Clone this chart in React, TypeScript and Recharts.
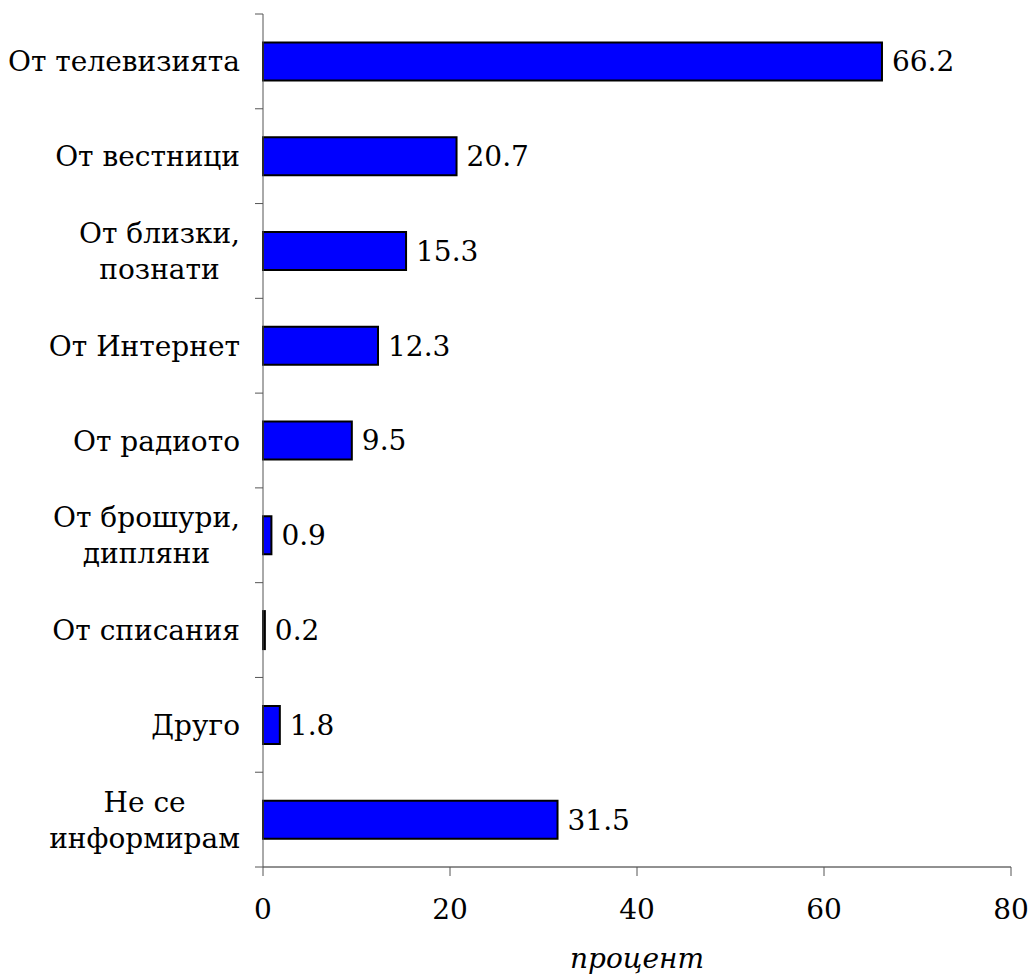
import React from "react";
import { BarChart, Bar, XAxis, YAxis, LabelList, Label } from "recharts";

const categories = [
  "От телевизията",
  "От вестници",
  "От близки,\nпознати",
  "От Интернет",
  "От радиото",
  "От брошури,\nдипляни",
  "От списания",
  "Друго",
  "Не се\nинформирам",
];
const values = [66.2, 20.7, 15.3, 12.3, 9.5, 0.9, 0.2, 1.8, 31.5];
const xTicks = [0, 20, 40, 60, 80];
const axisTitle = "процент";

const data = categories.map((c, i) => ({ name: c, value: values[i] }));

const FONT = "'DejaVu Serif', serif";
const FS = 28;
const LINE_H = 36;
const Y_TICK = 8;
const Y_MARGIN = 15;

let ctx: CanvasRenderingContext2D | null = null;
function measure(text: string): number {
  if (!ctx) {
    const c = document.createElement("canvas");
    ctx = c.getContext("2d");
  }
  if (!ctx) return text.length * FS * 0.6;
  ctx.font = `${FS}px 'DejaVu Serif'`;
  return ctx.measureText(text).width;
}

const YTick = (props: any) => {
  const { x, y, payload, index, visibleTicksCount } = props;
  const half = payload && typeof payload.offset === "number" && payload.offset > 0 ? payload.offset : 47.4;
  const lines = String(payload.value).split("\n");
  const n = lines.length;
  const base = y + 10 - ((n - 1) * LINE_H) / 2;
  const axisX = x + Y_MARGIN + Y_TICK;
  const isLast = index === (visibleTicksCount ?? categories.length) - 1;
  const tickLines = (
    <>
      <line x1={axisX - Y_TICK} x2={axisX} y1={y - half} y2={y - half} stroke="#555" strokeWidth={1} />
      {isLast && (
        <line x1={axisX - Y_TICK} x2={axisX} y1={y + half} y2={y + half} stroke="#555" strokeWidth={1} />
      )}
    </>
  );
  if (n === 1) {
    return (
      <g>
        {tickLines}
        <text x={x} y={base} textAnchor="end" fontFamily={FONT} fontSize={FS} fill="#000">
          {lines[0]}
        </text>
      </g>
    );
  }
  const w = Math.max(...lines.map(measure));
  const cx = x - w / 2;
  return (
    <g>
      {tickLines}
      <text textAnchor="middle" fontFamily={FONT} fontSize={FS} fill="#000">
        {lines.map((l, i) => (
          <tspan key={i} x={cx} y={base + i * LINE_H}>
            {l}
          </tspan>
        ))}
      </text>
    </g>
  );
};

export default function App() {
  return (
    <div style={{ position: "absolute", left: 0, top: 0, width: 1032, height: 977, background: "#fff" }}>
      <BarChart
        width={1032}
        height={977}
        data={data}
        layout="vertical"
        margin={{ top: 14, right: 21, bottom: 0, left: 0 }}
        barCategoryGap="30%"
      >
        <XAxis
          type="number"
          domain={[0, 80]}
          ticks={xTicks}
          height={110}
          tickSize={9}
          tickMargin={23}
          axisLine={{ stroke: "#222", strokeWidth: 1 }}
          tickLine={{ stroke: "#555", strokeWidth: 1 }}
          tick={{ fontFamily: FONT, fontSize: FS, fill: "#000" }}
        >
          <Label
            value={axisTitle}
            position="insideBottom"
            offset={9}
            style={{ fontFamily: FONT, fontSize: FS, fontStyle: "italic", fill: "#000" }}
          />
        </XAxis>
        <YAxis
          type="category"
          dataKey="name"
          width={263}
          tickSize={Y_TICK}
          tickMargin={Y_MARGIN}
          tickLine={false}
          axisLine={{ stroke: "#555", strokeWidth: 1 }}
          tick={<YTick />}
          interval={0}
        />
        <Bar
          dataKey="value"
          fill="#0000FF"
          stroke="#000"
          strokeWidth={2}
          isAnimationActive={false}
        >
          <LabelList
            dataKey="value"
            position="right"
            offset={10}
            style={{ fontFamily: FONT, fontSize: FS, fill: "#000" }}
          />
        </Bar>
      </BarChart>
    </div>
  );
}
